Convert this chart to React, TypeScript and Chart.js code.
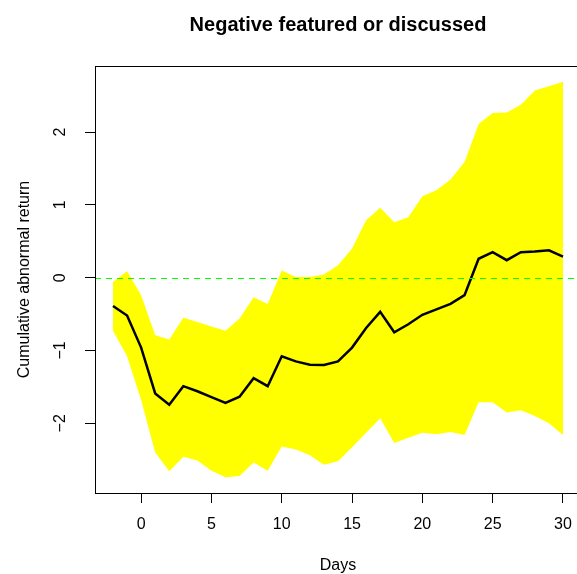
import React, { useEffect, useRef } from 'react';
import { Chart, registerables } from 'chart.js';

Chart.register(...registerables);

// ---- data ----
const days = [-2, -1, 0, 1, 2, 3, 4, 5, 6, 7, 8, 9, 10, 11, 12, 13, 14, 15, 16, 17, 18, 19, 20, 21, 22, 23, 24, 25, 26, 27, 28, 29, 30];

const meanCAR = [-0.39, -0.52, -0.96, -1.59, -1.745, -1.49, -1.56, -1.64, -1.72, -1.635, -1.38, -1.49, -1.08, -1.15, -1.195, -1.2, -1.15, -0.96, -0.69, -0.47, -0.75, -0.64, -0.51, -0.435, -0.36, -0.24, 0.26, 0.35, 0.24, 0.35, 0.36, 0.375, 0.29];

const upperBand = [-0.06, 0.09, -0.24, -0.79, -0.85, -0.55, -0.61, -0.67, -0.73, -0.56, -0.27, -0.36, 0.1, 0.01, 0.01, 0.045, 0.17, 0.4, 0.79, 0.96, 0.76, 0.83, 1.12, 1.2, 1.35, 1.59, 2.11, 2.26, 2.27, 2.375, 2.57, 2.63, 2.69];

const lowerBand = [-0.73, -1.08, -1.68, -2.4, -2.66, -2.46, -2.51, -2.65, -2.74, -2.725, -2.54, -2.65, -2.32, -2.36, -2.44, -2.57, -2.52, -2.33, -2.13, -1.93, -2.27, -2.2, -2.13, -2.15, -2.12, -2.16, -1.71, -1.71, -1.85, -1.82, -1.9, -2.0, -2.16];

const xTicks = [0, 5, 10, 15, 20, 25, 30];
const yTicks = [-2, -1, 0, 1, 2];
const referenceLevel = 0;

const titleText = 'Negative featured or discussed';
const xLabel = 'Days';
const yLabel = 'Cumulative abnormal return';

const FONT = '"Liberation Sans", Arial, Helvetica, sans-serif';

// R-style 4% axis expansion
function rRange(vals: number[]): [number, number] {
  const lo = Math.min(...vals);
  const hi = Math.max(...vals);
  const pad = (hi - lo) * 0.04;
  return [lo - pad, hi + pad];
}

const fmt = (v: number | string) => {
  const n = Number(v);
  return n < 0 ? '\u2212' + String(-n) : String(n);
};

const boxPlugin = {
  id: 'rbox',
  afterDraw(chart: any) {
    const { ctx, chartArea } = chart;
    const { left, top, right, bottom } = chartArea;
    ctx.save();
    ctx.strokeStyle = '#000';
    ctx.lineWidth = 1;
    ctx.strokeRect(Math.round(left) + 0.5, Math.round(top) + 0.5, right - left, bottom - top);
    ctx.restore();
  },
};

// abline(h = 0): dashed green horizontal line across the plot region
const ablinePlugin = {
  id: 'abline',
  afterDatasetsDraw(chart: any) {
    const { ctx, chartArea, scales } = chart;
    const y = Math.round(scales.y.getPixelForValue(referenceLevel)) + 0.5;
    ctx.save();
    ctx.beginPath();
    ctx.rect(chartArea.left, chartArea.top, chartArea.right - chartArea.left, chartArea.bottom - chartArea.top);
    ctx.clip();
    ctx.strokeStyle = '#00FF00';
    ctx.lineWidth = 1;
    ctx.setLineDash([6, 5]);
    ctx.beginPath();
    ctx.moveTo(chartArea.left, y);
    ctx.lineTo(chartArea.right, y);
    ctx.stroke();
    ctx.restore();
  },
};

export default function App() {
  const ref = useRef<HTMLCanvasElement | null>(null);

  useEffect(() => {
    if (!ref.current) return;
    const [xMin, xMax] = rRange(days);
    const [yMin, yMax] = rRange([...upperBand, ...lowerBand, ...meanCAR]);
    const pts = (ys: number[]) => days.map((d, i) => ({ x: d, y: ys[i] }));

    const chart = new Chart(ref.current, {
      type: 'line',
      data: {
        datasets: [
          {
            label: 'mean',
            data: pts(meanCAR),
            borderColor: '#000000',
            borderWidth: 2.5,
            pointRadius: 0,
            fill: false,
            tension: 0,
            order: 0,
          },
          {
            label: 'upper',
            data: pts(upperBand),
            borderColor: 'rgba(0,0,0,0)',
            borderWidth: 0,
            backgroundColor: '#FFFF00',
            pointRadius: 0,
            fill: '+1',
            tension: 0,
            order: 2,
          },
          {
            label: 'lower',
            data: pts(lowerBand),
            borderColor: 'rgba(0,0,0,0)',
            borderWidth: 0,
            backgroundColor: '#FFFF00',
            pointRadius: 0,
            fill: false,
            tension: 0,
            order: 3,
          },
        ],
      },
      options: {
        responsive: false,
        animation: false,
        devicePixelRatio: 1,
        layout: { padding: 0 },
        plugins: {
          legend: { display: false },
          tooltip: { enabled: false },
          title: {
            display: true,
            text: titleText,
            color: '#000',
            fullSize: false,
            font: { family: FONT, size: 20, weight: 'bold', lineHeight: 1 },
            padding: { top: 15, bottom: 31 },
          },
        },
        scales: {
          x: {
            type: 'linear',
            position: 'bottom',
            min: xMin,
            max: xMax,
            afterBuildTicks: (s: any) => {
              s.ticks = xTicks.map((v) => ({ value: v }));
            },
            afterFit: (s: any) => {
              s.height = 81;
            },
            grid: { display: true, drawOnChartArea: false, drawTicks: true, tickLength: 10, tickColor: '#000', tickWidth: 1 },
            border: { display: true, color: '#000', width: 1 },
            ticks: {
              color: '#000',
              font: { family: FONT, size: 16 },
              padding: 12,
              minRotation: 0,
              maxRotation: 0,
              autoSkip: false,
              callback: fmt,
            },
            title: {
              display: true,
              text: xLabel,
              color: '#000',
              font: { family: FONT, size: 16, lineHeight: 1 },
              padding: { top: 0, bottom: 0 },
            },
          },
          y: {
            type: 'linear',
            position: 'left',
            min: yMin,
            max: yMax,
            afterBuildTicks: (s: any) => {
              s.ticks = yTicks.map((v) => ({ value: v }));
            },
            afterFit: (s: any) => {
              s.width = 95;
            },
            grid: { display: true, drawOnChartArea: false, drawTicks: true, tickLength: 10, tickColor: '#000', tickWidth: 1 },
            border: { display: true, color: '#000', width: 1 },
            ticks: {
              color: '#000',
              font: { family: FONT, size: 16 },
              padding: 15,
              minRotation: 90,
              maxRotation: 90,
              crossAlign: 'center',
              autoSkip: false,
              callback: fmt,
            },
            title: {
              display: true,
              text: yLabel,
              color: '#000',
              font: { family: FONT, size: 16, lineHeight: 1 },
              padding: { top: 17, bottom: 0 },
            },
          },
        },
      } as any,
      plugins: [ablinePlugin, boxPlugin],
    });

    return () => chart.destroy();
  }, []);

  return (
    <div style={{ position: 'absolute', left: 0, top: 0, width: 577, height: 574, overflow: 'hidden', background: '#fff' }}>
      <canvas ref={ref} width={584} height={574} style={{ display: 'block', width: 584, height: 574 }} />
    </div>
  );
}
